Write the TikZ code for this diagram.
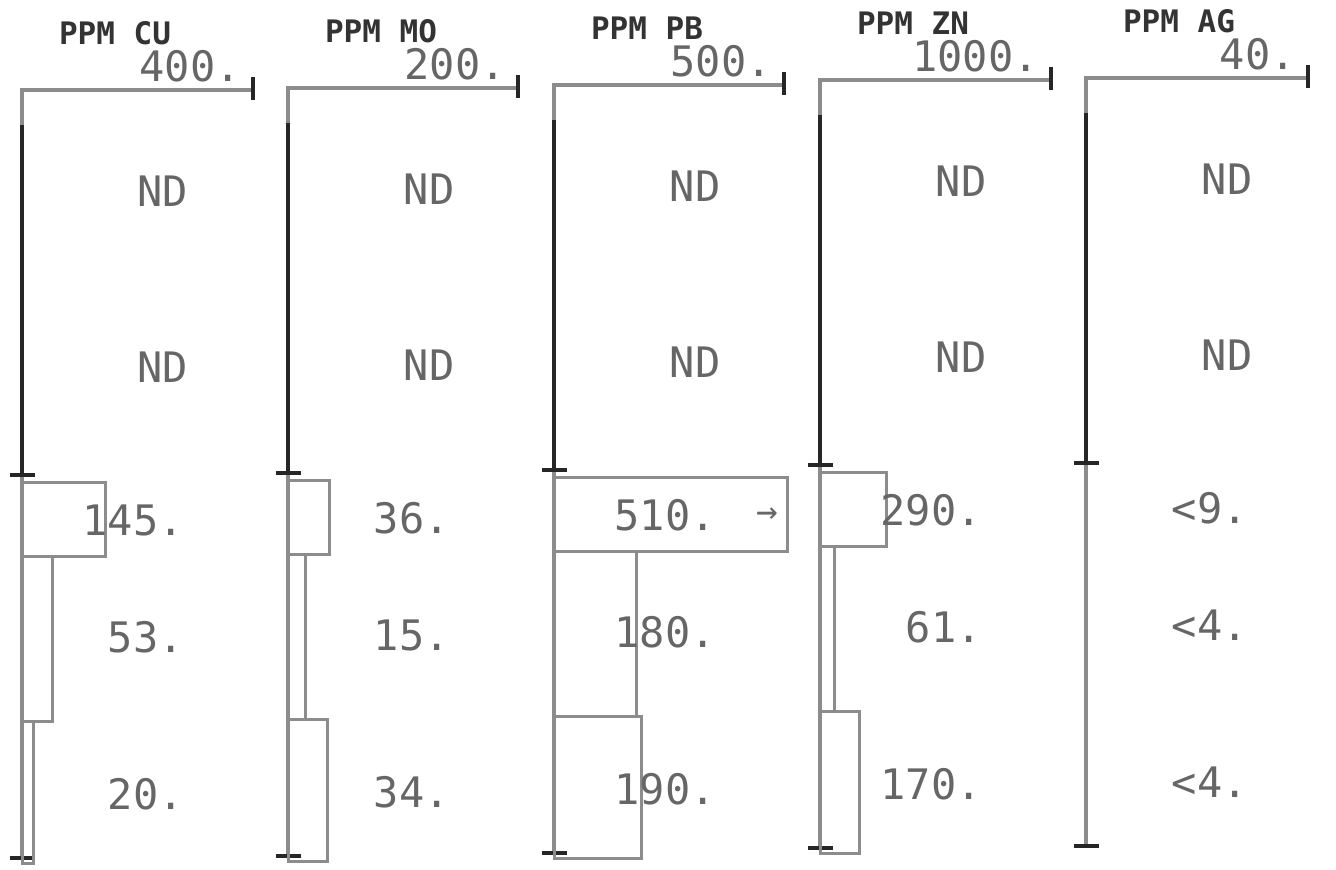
\documentclass[tikz,border=0pt]{standalone}
\usepackage{fontspec}
\setmonofont{DejaVu Sans Mono}
\usepackage{tikz}
\tikzset{
	axisline/.style={line width=3.5pt, draw=black!45},
	inkline/.style={line width=3.5pt, draw=black!85},
	barline/.style={line width=3pt, draw=black!45},
	valtext/.style={font=\ttfamily\fontsize{42}{42}\selectfont, text=black!60, inner sep=0pt},
	headtext/.style={font=\ttfamily\bfseries\fontsize{31}{31}\selectfont, text=black!80, inner sep=0pt}
}

\begin{document}
\begin{tikzpicture}[x=1pt, y=-1pt]
				\useasboundingbox (0,0) rectangle (1336,870);
				% one column per element: origin, axis length, scale, three samples
				\foreach \n/\xo/\yo/\w/\elem/\top/\sc/\a/\b/\c/\ta/\tb/\tc in {
					cu/22/90/231/CU/400./400/145/53/20/145./53./20.,
					mo/288/88/230/MO/200./200/36/15/34/36./15./34.,
					pb/554/85/230/PB/500./500/510/180/190/510./180./190.,
					zn/820/80/231/ZN/1000./1000/290/61/170/290./61./170.,
					ag/1086/78/222/AG/40./40/0/0/0/<9./<4./<4.} {
					\draw[axisline] (\xo+\w,\yo) -- (\xo,\yo) -- (\xo,\yo+35);
					\draw[inkline] (\xo,\yo+35) -- (\xo,\yo+385);
					\draw[axisline] (\xo,\yo+385) -- (\xo,\yo+768);
					\draw[inkline] (\xo+\w,\yo-13) -- (\xo+\w,\yo+10);
					\foreach \t in {385,768}
						\draw[inkline] (\xo-12,\yo+\t) -- (\xo+13,\yo+\t);
					\ifnum\a>0
						\pgfmathsetmacro\wa{min(\a/\sc*\w,\w+3)}
						\pgfmathsetmacro\wb{\b/\sc*\w}
						\pgfmathsetmacro\wc{\c/\sc*\w}
						\draw[barline] (\xo,\yo+392) rectangle (\xo+\wa,\yo+466);
						\draw[barline] (\xo,\yo+466) rectangle (\xo+\wb,\yo+631);
						\draw[barline] (\xo,\yo+631) rectangle (\xo+\wc,\yo+773);
					\fi
					\node[headtext] (\n-head) at (\xo+93,\yo-57) {PPM \elem};
					\node[valtext, anchor=east] (\n-top) at (\xo+\w-12,\yo-24) {\top};
					\node[valtext] (\n-nd1) at (\xo+141,\yo+101) {ND};
					\node[valtext] (\n-nd2) at (\xo+141,\yo+277) {ND};
					\node[valtext, anchor=east] (\n-s1) at (\xo+162,\yo+430) {\ta};
					\node[valtext, anchor=east] (\n-s2) at (\xo+162,\yo+547) {\tb};
					\node[valtext, anchor=east] (\n-s3) at (\xo+162,\yo+704) {\tc};
				}
				\node[valtext, font=\ttfamily\fontsize{36}{36}\selectfont] (pb-over) at (767,516) {→};
			\end{tikzpicture}
\end{document}
